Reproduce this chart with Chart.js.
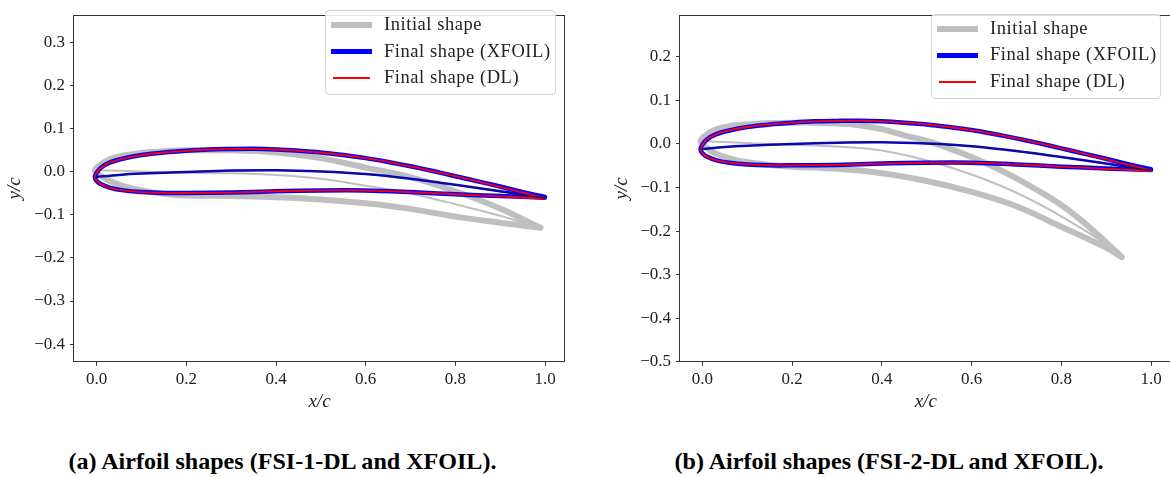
<!DOCTYPE html>
<html><head><meta charset="utf-8">
<script src="https://cdn.jsdelivr.net/npm/chart.js@4.4.1/dist/chart.umd.min.js"></script>
<style>
html,body{margin:0;padding:0;background:#fff;}
#wrap{position:relative;width:1170px;height:477px;overflow:hidden;background:#fff;}
canvas{position:absolute;top:0;}
.legend{position:absolute;border:1px solid #d4d4d4;border-radius:4px;background:rgba(255,255,255,0.85);box-sizing:border-box;font-family:'Liberation Serif',serif;font-size:18.5px;letter-spacing:0.55px;color:#222;}
.sample{position:absolute;}
.ltext{position:absolute;white-space:nowrap;line-height:20px;height:20px;}
.cap{position:absolute;top:451px;font-family:'Liberation Serif',serif;font-weight:bold;font-size:23px;line-height:22px;white-space:nowrap;color:#000;transform-origin:center center;}
</style></head>
<body><div id="wrap">
<canvas id="ca" width="580" height="420" style="left:0px;width:580px;height:420px"></canvas>
<canvas id="cb" width="580" height="420" style="left:600px;width:580px;height:420px"></canvas>
</div>
<script>
// ---------- data ----------
const xTicks  = [0, 0.2, 0.4, 0.6, 0.8, 1.0];
const yTicksA = [-0.4, -0.3, -0.2, -0.1, 0, 0.1, 0.2, 0.3];
const yTicksB = [-0.5, -0.4, -0.3, -0.2, -0.1, 0, 0.1, 0.2];
const legendLabels = ['Initial shape', 'Final shape (XFOIL)', 'Final shape (DL)'];
const captions = ['(a) Airfoil shapes (FSI-1-DL and XFOIL).', '(b) Airfoil shapes (FSI-2-DL and XFOIL).'];

// (a) initial shape
const xInitUpA = [-0.004, 0.01, 0.03, 0.06, 0.1, 0.15, 0.2, 0.3, 0.4, 0.5, 0.6, 0.7, 0.8, 0.9, 0.99];
const yInitUpA = [0.004, 0.018, 0.030, 0.038, 0.044, 0.048, 0.050, 0.050, 0.045, 0.032, 0.010, -0.012, -0.045, -0.085, -0.130];
const xInitLoA = [-0.004, 0.01, 0.03, 0.06, 0.1, 0.15, 0.2, 0.3, 0.4, 0.5, 0.6, 0.7, 0.8, 0.9, 0.99];
const yInitLoA = [0.004, -0.010, -0.022, -0.033, -0.043, -0.051, -0.055, -0.056, -0.059, -0.064, -0.073, -0.086, -0.104, -0.118, -0.130];
const xInitCamA = [-0.004, 0.1, 0.2, 0.3, 0.4, 0.5, 0.6, 0.7, 0.8, 0.9, 0.99];
const yInitCamA = [0.004, 0.001, -0.002, -0.003, -0.007, -0.016, -0.032, -0.050, -0.075, -0.102, -0.130];

// (b) initial shape
const xInitUpB = [-0.004, 0.01, 0.03, 0.06, 0.1, 0.15, 0.2, 0.25, 0.3, 0.35, 0.4, 0.45, 0.5, 0.55, 0.6, 0.65, 0.7, 0.75, 0.8, 0.85, 0.9, 0.935];
const yInitUpB = [0.007, 0.022, 0.033, 0.041, 0.045, 0.048, 0.049, 0.049, 0.047, 0.043, 0.034, 0.020, 0.007, -0.010, -0.030, -0.053, -0.079, -0.108, -0.140, -0.180, -0.226, -0.260];
const xInitLoB = [-0.004, 0.01, 0.03, 0.06, 0.1, 0.15, 0.2, 0.3, 0.4, 0.5, 0.6, 0.7, 0.8, 0.9, 0.935];
const yInitLoB = [0.007, -0.009, -0.022, -0.033, -0.042, -0.048, -0.052, -0.057, -0.067, -0.085, -0.110, -0.143, -0.190, -0.238, -0.260];
const xInitCamB = [-0.004, 0.1, 0.2, 0.3, 0.4, 0.5, 0.6, 0.7, 0.8, 0.9, 0.935];
const yInitCamB = [0.007, 0.002, -0.002, -0.006, -0.015, -0.038, -0.070, -0.112, -0.166, -0.230, -0.260];

// final shape (XFOIL)
const xFinUp = [-0.004, 0.0, 0.01, 0.03, 0.06, 0.1, 0.15, 0.2, 0.25, 0.3, 0.35, 0.4, 0.45, 0.5, 0.55, 0.6, 0.65, 0.7, 0.75, 0.8, 0.85, 0.9, 0.95, 1.0];
const yXfUp  = [-0.012, -0.002, 0.010, 0.022, 0.031, 0.039, 0.045, 0.049, 0.052, 0.053, 0.0535, 0.052, 0.049, 0.045, 0.039, 0.032, 0.023, 0.013, 0.002, -0.010, -0.022, -0.034, -0.047, -0.058];
const xFinLo = [-0.004, 0.0, 0.01, 0.03, 0.06, 0.1, 0.15, 0.2, 0.3, 0.4, 0.5, 0.6, 0.7, 0.8, 0.9, 1.0];
const yXfLo  = [-0.012, -0.021, -0.029, -0.037, -0.043, -0.047, -0.049, -0.049, -0.048, -0.045, -0.043, -0.043, -0.047, -0.052, -0.056, -0.060];
const xFinCam = [-0.004, 0.05, 0.1, 0.2, 0.3, 0.4, 0.5, 0.6, 0.7, 0.8, 0.9, 1.0];
const yXfCam  = [-0.012, -0.007, -0.004, 0.000, 0.003, 0.004, 0.001, -0.005, -0.016, -0.030, -0.045, -0.059];
// final shape (DL)
const yDlUp  = [-0.012, -0.002, 0.010, 0.022, 0.031, 0.039, 0.045, 0.049, 0.052, 0.053, 0.0535, 0.052, 0.049, 0.045, 0.039, 0.032, 0.023, 0.013, 0.002, -0.010, -0.022, -0.035, -0.048, -0.061];
const yDlLo  = [-0.012, -0.021, -0.029, -0.037, -0.043, -0.047, -0.049, -0.049, -0.048, -0.045, -0.043, -0.043, -0.047, -0.052, -0.057, -0.062];
const yDlCam = [-0.012, -0.007, -0.004, 0.000, 0.003, 0.004, 0.001, -0.005, -0.016, -0.030, -0.046, -0.061];

// ---------- helpers ----------
const GRAY = '#bfbfbf', BLUE = '#0000ff', RED = '#ff0000', NAVY = '#14145a';
function pts(xs, ys) { return xs.map((x, i) => ({x: x, y: ys[i]})); }
function outline(xu, yu, xl, yl) { return pts(xu, yu).reverse().concat(pts(xl, yl).slice(1)); }
function fmt(v) { const s = (Math.abs(v) < 1e-9 ? 0 : v).toFixed(1); return s.replace('-', '\u2212'); }
function ds(label, data, color, width, order) {
  return {label: label, data: data, borderColor: color, backgroundColor: color, borderWidth: width,
          showLine: true, pointRadius: 0, pointHoverRadius: 0, tension: 0.3, fill: false, order: order,
          borderCapStyle: 'round', borderJoinStyle: 'round'};
}

const spines = {
  id: 'spines',
  afterDatasetsDraw(chart) {
    const {ctx, chartArea: a} = chart;
    ctx.save();
    ctx.strokeStyle = '#333';
    ctx.lineWidth = 1;
    const l = Math.round(a.left) - 0.5, t = Math.round(a.top) + 0.5;
    const r = Math.round(a.right) - 0.5, b = Math.round(a.bottom) - 0.5;
    ctx.strokeRect(l, t, r - l, b - t);
    ctx.restore();
  }
};

function makeChart(id, c) {
  const tickFont = {family: "'Liberation Serif', serif", size: 17};
  const titleFont = {family: "'Liberation Serif', serif", size: 19, style: 'italic'};
  return new Chart(document.getElementById(id), {
    type: 'scatter',
    data: {datasets: c.datasets},
    options: {
      responsive: false, animation: false, devicePixelRatio: 1,
      layout: {padding: {left: 0, top: c.padTop, right: c.padRight, bottom: 0}},
      plugins: {legend: {display: false}, tooltip: {enabled: false}},
      scales: {
        x: {
          type: 'linear', min: c.xMin, max: c.xMax,
          afterFit(s) { s.height = c.xAxisH; },
          afterBuildTicks(s) { s.ticks = xTicks.map(v => ({value: v})); },
          ticks: {autoSkip: false, maxRotation: 0, padding: 3.5, color: '#222', font: tickFont, callback: v => fmt(v)},
          grid: {drawOnChartArea: false, drawTicks: true, tickLength: 4, color: '#333', lineWidth: 1},
          border: {display: false},
          title: {display: true, text: 'x/c', color: '#222', font: titleFont, padding: {top: 0, bottom: 7}}
        },
        y: {
          type: 'linear', min: c.yMin, max: c.yMax,
          afterFit(s) { s.width = c.yAxisW; },
          afterBuildTicks(s) { s.ticks = c.yTicks.map(v => ({value: v})); },
          ticks: {autoSkip: false, padding: 5, color: '#222', font: tickFont, callback: v => fmt(v)},
          grid: {drawOnChartArea: false, drawTicks: true, tickLength: 4, color: '#333', lineWidth: 1},
          border: {display: false},
          title: {display: true, text: 'y/c', color: '#222', font: titleFont, padding: {top: c.yTitlePad, bottom: 0}}
        }
      }
    },
    plugins: [spines]
  });
}

// higher order = drawn earlier (underneath)
function datasetsFor(initUp, initLo, initCam) {
  return [
    ds(legendLabels[0], outline(initUp[0], initUp[1], initLo[0], initLo[1]), GRAY, 6, 6),
    ds('initial camber', pts(initCam[0], initCam[1]), GRAY, 2, 5),
    ds(legendLabels[1], outline(xFinUp, yXfUp, xFinLo, yXfLo), BLUE, 4.5, 4),
    ds('XFOIL camber', pts(xFinCam, yXfCam), BLUE, 2.5, 3),
    ds(legendLabels[2], outline(xFinUp, yDlUp, xFinLo, yDlLo), RED, 1.8, 2),
    ds('DL camber', pts(xFinCam, yDlCam), NAVY, 1.2, 1)
  ];
}

makeChart('ca', {
  xMin: -0.0506, xMax: 1.0446, yMin: -0.441, yMax: 0.364, yTicks: yTicksA,
  yAxisW: 74, xAxisH: 58.3, padTop: 1, padRight: 15, yTitlePad: 3.6,
  datasets: datasetsFor([xInitUpA, yInitUpA], [xInitLoA, yInitLoA], [xInitCamA, yInitCamA])
});
makeChart('cb', {
  xMin: -0.0497, xMax: 1.0456, yMin: -0.5, yMax: 0.2958, yTicks: yTicksB,
  yAxisW: 80, xAxisH: 58.3, padTop: 4.7, padRight: 8.5, yTitlePad: 10.4,
  datasets: datasetsFor([xInitUpB, yInitUpB], [xInitLoB, yInitLoB], [xInitCamB, yInitCamB])
});

// ---------- legends ----------
const wrap = document.getElementById('wrap');
const legendStyles = [
  {color: GRAY, h: 6, x0: 5, w: 41},
  {color: BLUE, h: 5, x0: 5, w: 41},
  {color: RED, h: 2, x0: 7, w: 37}
];
function addLegend(left, top, w, h, rows) {
  const box = document.createElement('div');
  box.className = 'legend';
  box.style.cssText = `left:${left}px;top:${top}px;width:${w}px;height:${h}px;`;
  legendLabels.forEach((lab, i) => {
    const st = legendStyles[i];
    const s = document.createElement('div');
    s.className = 'sample';
    s.style.cssText = `left:${st.x0}px;top:${rows[i] - st.h / 2}px;width:${st.w}px;height:${st.h}px;background:${st.color};`;
    box.appendChild(s);
    const t = document.createElement('div');
    t.className = 'ltext';
    t.style.cssText = `left:58px;top:${rows[i] - 11}px;`;
    t.textContent = lab;
    box.appendChild(t);
  });
  wrap.appendChild(box);
}
addLegend(325, 10, 231, 85, [14.3, 40.7, 67.3]);
addLegend(931, 14, 230, 85, [14.3, 40.3, 67]);

// ---------- captions ----------
function addCaption(text, cx, targetW) {
  const d = document.createElement('div');
  d.className = 'cap';
  d.textContent = text;
  wrap.appendChild(d);
  const w = d.getBoundingClientRect().width;
  d.style.left = (cx - w / 2) + 'px';
  d.style.transform = `scaleX(${targetW / w})`;
}
addCaption(captions[0], 282.5, 428);
addCaption(captions[1], 889.5, 429);
</script>
</body></html>
